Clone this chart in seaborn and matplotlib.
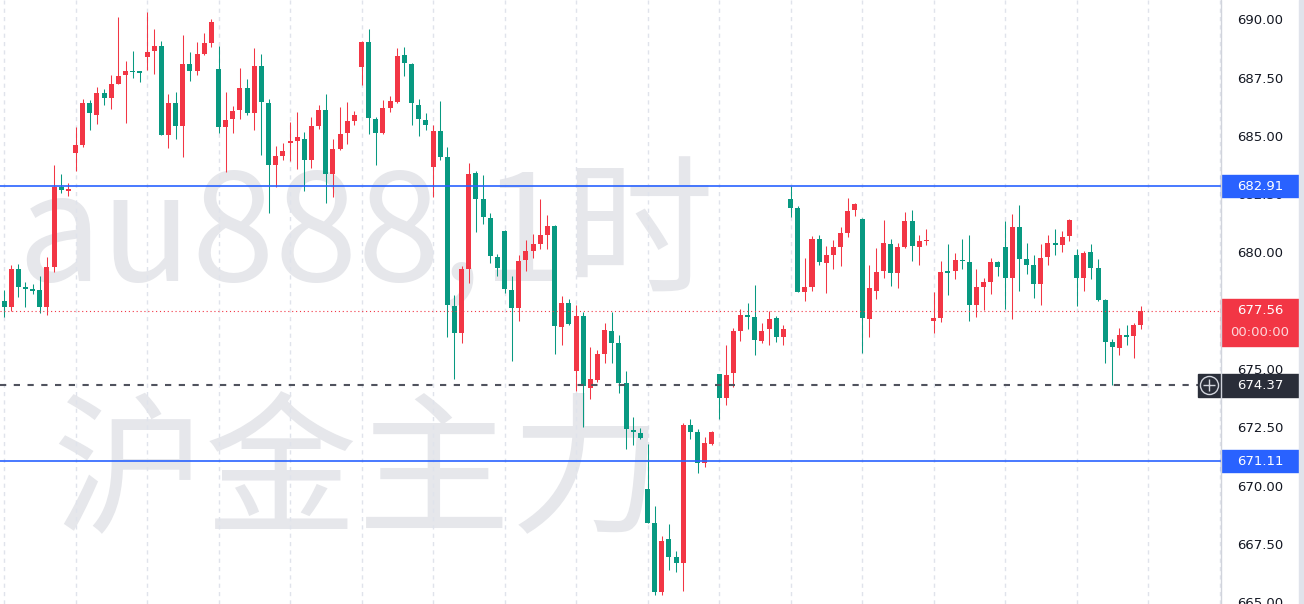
import numpy as np
import pandas as pd
import seaborn as sns
import matplotlib
matplotlib.use("Agg")  # non-interactive backend
import matplotlib.pyplot as plt
from matplotlib.patches import Rectangle

# Hourly candles (red = up, green = down)
opens = [677.97, 677.74, 679.34, 678.57, 678.50, 678.45, 677.74, 679.46, 682.89, 682.72,
         684.35, 684.67, 686.49, 685.98, 686.90, 686.70, 687.30, 687.70, 687.87, 687.84,
         688.47, 688.73, 688.93, 685.09, 686.47, 685.49, 688.15, 687.87, 688.58, 689.07,
         687.95, 685.46, 685.78, 686.18, 687.12, 686.04, 688.07, 686.49, 683.83, 684.21,
         684.75, 684.84, 684.95, 684.03, 685.49, 686.18, 683.43, 684.49, 685.18, 685.72,
         688.01, 689.10, 685.81, 685.18, 686.27, 686.52, 688.53, 688.15, 686.41, 685.75,
         683.75, 685.27, 684.15, 677.77, 676.60, 679.37, 683.46, 682.35, 681.55, 679.88,
         680.97, 678.45, 677.68, 679.74, 680.14, 680.43, 680.83, 681.20, 676.88, 677.88,
         674.99, 677.34, 674.25, 674.59, 675.71, 676.71, 676.17, 674.45, 672.45, 672.33,
         669.93, 668.47, 665.49, 667.76, 666.98, 666.73, 672.65, 672.36, 671.02, 671.85,
         674.84, 673.81, 674.88, 676.71, 677.37, 677.31, 676.28, 676.77, 677.25, 676.45,
         682.35, 681.97, 678.37, 678.57, 680.63, 679.63, 679.97, 680.31, 680.89, 681.89,
         681.52, 677.23, 678.43, 679.26, 680.43, 679.20, 680.29, 681.43, 680.31, 680.54,
         677.11, 677.25, 679.26, 679.26, 679.74, 679.66, 677.80, 678.60, 678.80, 679.66,
         680.29, 678.97, 681.17, 679.77, 679.51, 678.71, 679.86, 680.49, 680.40, 680.77,
         679.97, 678.97, 680.09, 679.40, 678.03, 676.22, 675.97, 676.54, 676.48, 676.94]
highs = [678.45, 679.51, 679.57, 678.79, 678.71, 679.06, 679.88, 683.82, 683.43, 683.03,
         685.44, 686.67, 686.61, 687.15, 687.07, 687.67, 690.18, 688.27, 688.73, 687.86,
         690.39, 689.64, 689.13, 686.87, 686.95, 689.41, 688.67, 689.10, 689.47, 690.10,
         688.93, 686.95, 686.35, 687.98, 687.52, 688.84, 688.58, 686.64, 684.64, 684.75,
         685.67, 686.09, 685.24, 685.87, 686.38, 686.87, 684.92, 686.30, 686.52, 686.15,
         689.15, 689.64, 685.86, 686.61, 686.78, 688.84, 688.87, 688.18, 686.64, 686.04,
         685.55, 686.55, 684.60, 678.23, 679.48, 683.89, 683.58, 683.38, 681.75, 680.00,
         681.03, 679.06, 679.94, 680.60, 680.86, 682.37, 681.66, 681.23, 678.20, 678.08,
         677.82, 677.50, 676.02, 675.88, 677.03, 677.51, 676.51, 674.99, 673.00, 672.53,
         671.85, 669.18, 667.90, 668.41, 667.27, 672.76, 672.93, 672.47, 672.13, 672.42,
         674.86, 676.11, 676.82, 677.63, 677.88, 678.66, 677.03, 677.57, 677.34, 676.97,
         682.91, 682.06, 679.83, 680.77, 680.83, 680.34, 680.60, 681.17, 682.40, 682.20,
         681.55, 679.51, 680.26, 681.46, 680.66, 680.46, 681.80, 681.89, 680.83, 681.06,
         678.37, 679.71, 680.43, 680.06, 680.66, 680.80, 679.37, 678.97, 679.83, 679.70,
         681.43, 681.72, 682.09, 680.46, 679.97, 680.43, 680.83, 681.06, 681.00, 681.50,
         680.20, 680.14, 680.43, 679.77, 678.08, 676.36, 676.82, 676.97, 677.03, 677.77]
lows = [677.28, 677.57, 678.17, 677.71, 678.28, 677.48, 677.37, 679.24, 682.63, 682.49,
        683.58, 684.60, 685.32, 685.58, 686.38, 686.24, 687.28, 685.64, 687.55, 687.38,
        687.90, 687.73, 685.10, 684.55, 684.95, 684.18, 687.44, 687.67, 688.53, 688.90,
        685.18, 683.52, 685.21, 685.81, 685.95, 685.32, 684.26, 681.77, 682.89, 684.03,
        683.98, 683.66, 682.72, 683.69, 685.38, 682.18, 682.43, 684.45, 684.72, 685.55,
        687.27, 685.15, 683.83, 685.15, 686.09, 686.47, 687.64, 685.52, 685.06, 685.32,
        682.46, 684.05, 676.42, 674.62, 676.19, 678.74, 680.94, 681.29, 679.61, 679.06,
        678.34, 675.39, 677.14, 679.26, 679.83, 680.23, 680.23, 675.71, 676.08, 676.97,
        674.11, 672.56, 673.76, 674.51, 675.31, 675.31, 674.05, 671.62, 671.82, 672.07,
        668.45, 665.38, 665.35, 666.44, 666.35, 665.55, 672.07, 670.61, 670.87, 671.79,
        672.91, 673.53, 674.30, 676.28, 676.77, 675.68, 676.17, 676.08, 676.22, 676.11,
        681.60, 678.35, 677.97, 678.43, 679.54, 678.34, 679.34, 679.49, 680.74, 681.63,
        675.74, 676.45, 678.06, 678.97, 678.63, 678.54, 680.25, 679.71, 679.54, 680.37,
        676.62, 677.08, 678.25, 678.91, 679.37, 677.11, 677.31, 677.60, 678.28, 679.06,
        677.65, 677.23, 678.40, 679.14, 678.11, 677.82, 679.54, 679.97, 680.09, 680.57,
        677.77, 678.40, 678.91, 677.97, 675.33, 674.37, 675.68, 676.11, 675.54, 676.79]
closes = [677.71, 679.34, 678.60, 678.51, 678.41, 677.74, 679.43, 682.86, 682.75, 682.80,
          684.67, 686.47, 686.06, 686.90, 686.70, 687.30, 687.64, 687.87, 687.81, 687.78,
          688.67, 688.93, 685.12, 686.49, 685.49, 688.15, 687.87, 688.58, 689.07, 689.96,
          685.46, 685.75, 686.15, 687.12, 686.06, 688.07, 686.52, 683.83, 684.21, 684.41,
          684.84, 685.01, 684.03, 685.49, 686.18, 683.43, 684.49, 685.15, 685.72, 685.95,
          689.10, 685.84, 685.21, 686.27, 686.55, 688.50, 688.18, 686.47, 685.81, 685.55,
          685.27, 684.15, 677.80, 676.60, 679.34, 683.43, 682.35, 681.58, 679.91, 679.40,
          678.48, 677.68, 679.71, 680.12, 680.43, 680.80, 681.20, 676.91, 677.91, 677.00,
          677.34, 674.33, 674.62, 675.71, 676.74, 676.17, 674.48, 672.48, 672.36, 672.10,
          668.47, 665.49, 667.67, 667.01, 666.73, 672.65, 672.36, 671.04, 671.87, 672.36,
          673.81, 674.79, 676.68, 677.37, 677.31, 676.31, 676.71, 677.23, 676.45, 676.77,
          681.97, 678.37, 678.57, 680.63, 679.66, 679.97, 680.31, 680.89, 681.86, 682.15,
          677.25, 678.54, 679.23, 680.46, 679.20, 680.29, 681.43, 680.34, 680.57, 680.60,
          677.25, 679.23, 679.20, 679.74, 679.69, 677.80, 678.60, 678.80, 679.66, 679.46,
          678.97, 681.17, 679.77, 679.51, 678.71, 679.83, 680.46, 680.37, 680.74, 681.46,
          678.97, 680.06, 679.40, 678.03, 676.22, 676.00, 676.54, 676.45, 676.97, 677.56]

level_hi = 682.91
level_lo = 671.11
last_price = 677.56
alert_price = 674.37
countdown = "00:00:00"
price_ticks = [665.00, 667.50, 670.00, 672.50, 675.00, 677.50,
               680.00, 682.50, 685.00, 687.50, 690.00]
watermark_top = "au888,1时"
watermark_bottom = "沪金主力"

df = pd.DataFrame({"open": opens, "high": highs, "low": lows, "close": closes})
df["idx"] = np.arange(len(df))
df["up"] = df["close"] >= df["open"]

UP = "#F23645"
DOWN = "#089981"
BLUE = "#2962FF"

sns.set_theme(style="white")
plt.rcParams["font.family"] = ["Noto Sans CJK SC", "DejaVu Sans"]

W, H = 1304, 604
PANE_W = 1221
ymin, ymax = 664.98, 690.90
px = (ymax - ymin) / H  # one pixel in price units

fig = plt.figure(figsize=(W / 100, H / 100), dpi=100)
fig.patch.set_facecolor("white")

# main pane
ax = fig.add_axes([0, 0, PANE_W / W, 1])
ax.set_facecolor("white")
ax.set_xlim(-0.56, 170.2)
ax.set_ylim(ymin, ymax)
for s in ax.spines.values():
    s.set_visible(False)
ax.set_xticks(np.arange(0, 171, 10))
ax.set_yticks([])
ax.tick_params(length=0, labelbottom=False, labelleft=False)
ax.set_axisbelow(True)
ax.grid(axis="x", color="#e0e3eb", linestyle=(0, (3, 3)), linewidth=1)

# watermark
wm_color = "#e6e7eb"
wm_family = ["Noto Sans CJK SC", "DejaVu Sans"]
ax.text(366 / W, 1 - 281 / H, watermark_top, transform=fig.transFigure,
        ha="center", va="baseline", fontsize=107.5, color=wm_color,
        family=wm_family, zorder=0.1, clip_on=False)
ax.text(358 / W, 1 - 521 / H, watermark_bottom, transform=fig.transFigure,
        ha="center", va="baseline", fontsize=110, color=wm_color,
        family=wm_family, zorder=0.1, clip_on=False)

# candles
colors = np.where(df["up"], UP, DOWN)
ax.vlines(df["idx"], df["low"], df["high"], colors=colors, linewidth=0.75, zorder=3)
body_bottom = np.minimum(df["open"], df["close"])
body_h = np.maximum((df["close"] - df["open"]).abs(), px)
ax.bar(df["idx"], body_h, bottom=body_bottom, width=0.7, color=colors,
       linewidth=0, zorder=4)

# price lines
ax.axhline(level_hi, color=BLUE, linewidth=1.2, zorder=5)
ax.axhline(level_lo, color=BLUE, linewidth=1.2, zorder=5)
ax.axhline(last_price, color=UP, linewidth=0.8, linestyle=(0, (1, 2.5)), zorder=5)
ax.plot([-0.56, (1198 - 4) / 7.15], [alert_price, alert_price], color="#50535e",
        linewidth=1.5, linestyle=(0, (3, 3.6)), zorder=5)

# price scale
pax = fig.add_axes([PANE_W / W, 0, 78 / W, 1])
pax.set_xlim(0, 78)
pax.set_ylim(ymin, ymax)
pax.axis("off")
lab_font = dict(family="DejaVu Sans", fontsize=9.5)
for t in price_ticks:
    pax.text(39, t, f"{t:.2f}", ha="center", va="center", color="#131722",
             zorder=3, **lab_font)

# level labels
for lv in (level_hi, level_lo):
    pax.add_patch(Rectangle((0, lv - 11 * px), 78, 22 * px, color=BLUE,
                            zorder=4, clip_on=False))
    pax.text(39, lv, f"{lv:.2f}", ha="center", va="center", color="white",
             zorder=5, **lab_font)

pax.add_patch(Rectangle((0, last_price - 35 * px), 78, 47 * px, color=UP,
                        zorder=4, clip_on=False))
pax.text(39, last_price, f"{last_price:.2f}", ha="center", va="center",
         color="white", zorder=5, **lab_font)
pax.text(39, last_price - 22 * px, countdown, ha="center", va="center",
         color="white", alpha=0.8, zorder=5, **lab_font)

pax.add_patch(Rectangle((-23, alert_price - 11.5 * px), 101, 23 * px,
                        color="#2a2e39", zorder=4, clip_on=False))
pax.text(39, alert_price, f"{alert_price:.2f}", ha="center", va="center",
         color="white", zorder=5, **lab_font)
pax.plot([-12], [alert_price], marker="o", markersize=13, mfc="none",
         mec="#d1d4dc", mew=1, zorder=6, clip_on=False)
pax.plot([-12], [alert_price], marker="+", markersize=9, mec="#d1d4dc",
         mew=1, zorder=6, clip_on=False)

# scale border and right strip
pax.plot([0, 0], [ymin, ymax], color="#d1d4dc", linewidth=1, zorder=7, clip_on=False)
fig.add_artist(Rectangle((1299 / W, 0), 5 / W, 1, transform=fig.transFigure,
                         color="#e0e3eb", zorder=10))

plt.savefig("out.png", dpi=100)
plt.close()
